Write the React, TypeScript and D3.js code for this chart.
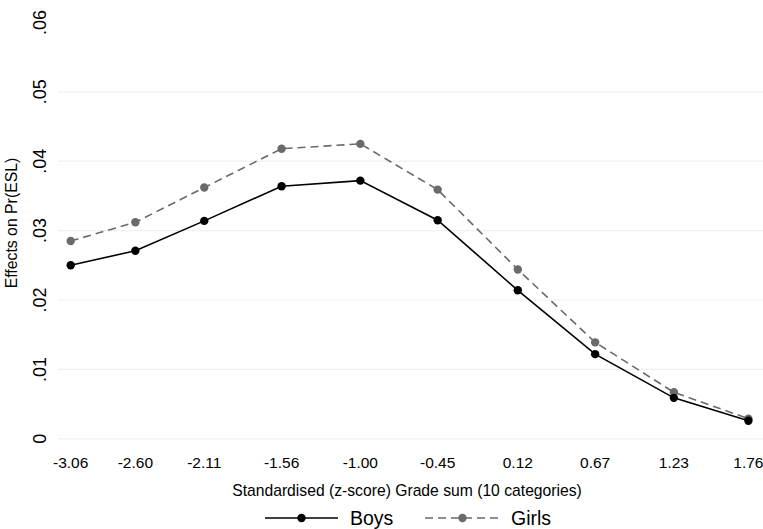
import React, { useEffect, useRef } from "react";
import * as d3 from "d3";

// grade sum categories (standardised z-score)
const grades = [-3.06, -2.6, -2.11, -1.56, -1.0, -0.45, 0.12, 0.67, 1.23, 1.76];
const gradeLabels = ["-3.06", "-2.60", "-2.11", "-1.56", "-1.00", "-0.45", "0.12", "0.67", "1.23", "1.76"];
const boys = [0.0250, 0.0271, 0.0314, 0.0364, 0.0372, 0.0315, 0.0214, 0.0122, 0.0059, 0.0026];
const girls = [0.0285, 0.0312, 0.0362, 0.0418, 0.0425, 0.0359, 0.0244, 0.0139, 0.0067, 0.0029];
const yTicks = [0, 0.01, 0.02, 0.03, 0.04, 0.05, 0.06];
const yTickLabels = ["0", ".01", ".02", ".03", ".04", ".05", ".06"];

const W = 763;
const H = 529;
const FONT = "'Liberation Sans', Arial, Helvetica, sans-serif";

const App = () => {
  const svgRef = useRef<SVGSVGElement>(null);

  useEffect(() => {
    const svg = d3.select(svgRef.current);
    svg.selectAll("*").remove();

    const x = d3.scaleLinear().domain([-3.06, 1.76]).range([70.7, 748.4]);
    const y = d3.scaleLinear().domain([0, 0.06]).range([438.8, 22.4]);

    // gridlines
    svg
      .append("g")
      .selectAll("line")
      .data(yTicks.slice(0, 6))
      .join("line")
      .attr("x1", 58)
      .attr("x2", W)
      .attr("y1", (d) => y(d))
      .attr("y2", (d) => y(d))
      .attr("stroke", "#eaf2f3")
      .attr("stroke-width", 1.2);

    // y tick labels, rotated
    svg
      .append("g")
      .selectAll("text")
      .data(yTicks)
      .join("text")
      .attr("transform", (d) => `translate(46, ${y(d)}) rotate(-90)`)
      .attr("text-anchor", "middle")
      .attr("font-family", FONT)
      .attr("font-size", 18)
      .attr("fill", "#000")
      .text((d, i) => yTickLabels[i]);

    svg
      .append("text")
      .attr("transform", `translate(17, 223) rotate(-90)`)
      .attr("text-anchor", "middle")
      .attr("font-family", FONT)
      .attr("font-size", 15.8)
      .text("Effects on Pr(ESL)");

    // x tick labels
    svg
      .append("g")
      .selectAll("text")
      .data(grades)
      .join("text")
      .attr("x", (d) => x(d))
      .attr("y", 468)
      .attr("text-anchor", "middle")
      .attr("font-family", FONT)
      .attr("font-size", 15.5)
      .text((d, i) => gradeLabels[i]);

    svg
      .append("text")
      .attr("x", 407)
      .attr("y", 496)
      .attr("text-anchor", "middle")
      .attr("font-family", FONT)
      .attr("font-size", 15.7)
      .text("Standardised (z-score) Grade sum (10 categories)");

    const series = [
      { name: "Boys", values: boys, color: "#000000", dash: null },
      { name: "Girls", values: girls, color: "#6a6a6a", dash: "8,5" },
    ];

    const line = d3
      .line<number>()
      .x((d, i) => x(grades[i]))
      .y((d) => y(d));

    // draw girls first so boys sit on top
    [...series].reverse().forEach((s) => {
      const g = svg.append("g");
      g.append("path")
        .attr("d", line(s.values))
        .attr("fill", "none")
        .attr("stroke", s.color)
        .attr("stroke-width", 1.6)
        .attr("stroke-dasharray", s.dash);
      g.selectAll("circle")
        .data(s.values)
        .join("circle")
        .attr("cx", (d, i) => x(grades[i]))
        .attr("cy", (d) => y(d))
        .attr("r", 4.2)
        .attr("fill", s.color);
    });

    // legend
    const legendPos = [
      { x1: 265, x2: 338, tx: 350 },
      { x1: 425, x2: 500, tx: 511 },
    ];
    const ly = 518;
    series.forEach((s, i) => {
      const p = legendPos[i];
      const g = svg.append("g");
      g.append("line")
        .attr("x1", p.x1)
        .attr("x2", p.x2)
        .attr("y1", ly)
        .attr("y2", ly)
        .attr("stroke", s.color)
        .attr("stroke-width", 1.6)
        .attr("stroke-dasharray", s.dash);
      g.append("circle")
        .attr("cx", (p.x1 + p.x2) / 2)
        .attr("cy", ly)
        .attr("r", 4.2)
        .attr("fill", s.color);
      g.append("text")
        .attr("x", p.tx)
        .attr("y", ly + 7)
        .attr("font-family", FONT)
        .attr("font-size", 19.5)
        .text(s.name);
    });
  }, []);

  return (
    <svg
      ref={svgRef}
      width={W}
      height={H}
      style={{ position: "absolute", left: 0, top: 0, background: "#fff" }}
    />
  );
};

export default App;
